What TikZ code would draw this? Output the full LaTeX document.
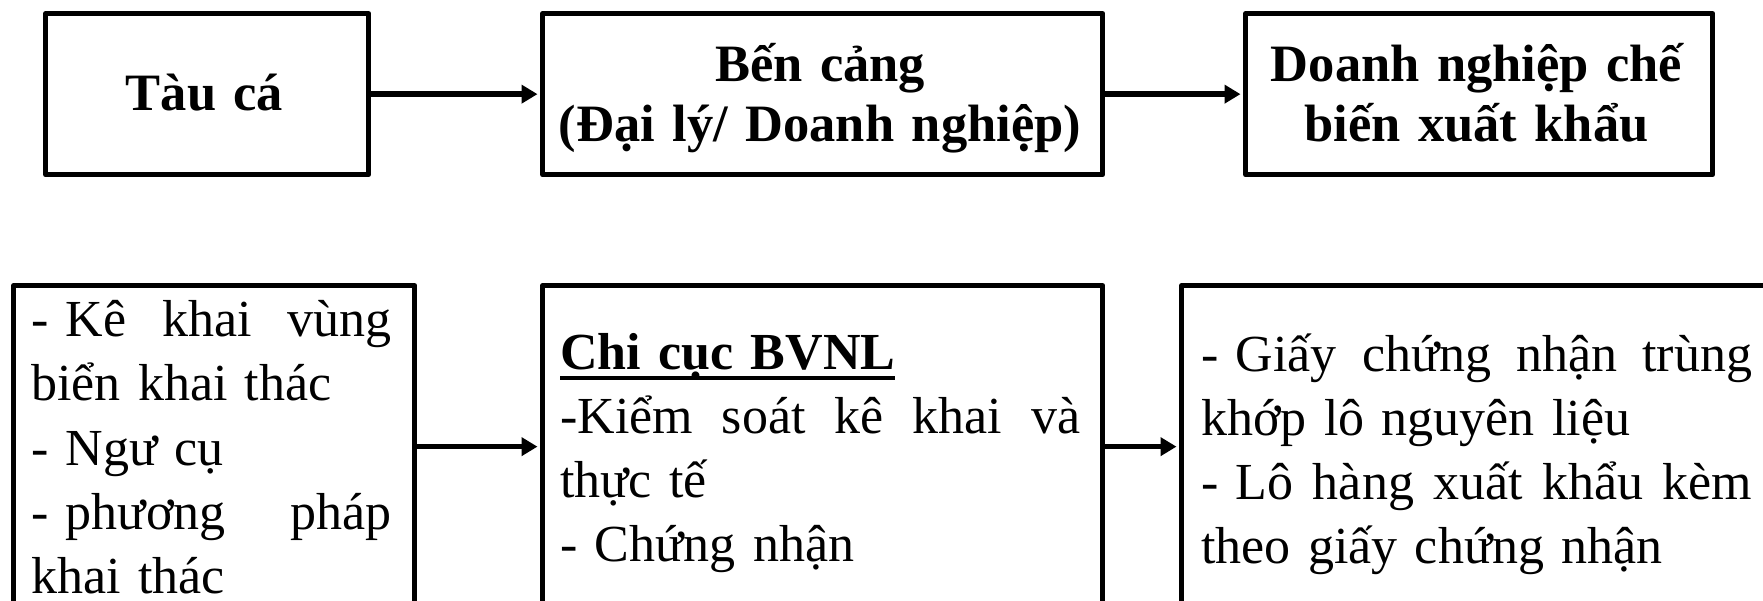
\documentclass[tikz,border=0pt]{standalone}
\usepackage{fontspec}
\setmainfont{Liberation Serif}
\usetikzlibrary{arrows.meta}
\newcommand\ulbold[1]{\setbox0\hbox{#1}\rlap{\rule[-11pt]{\wd0}{4pt}}\box0}
\begin{document}
\begin{tikzpicture}[x=1pt,y=-1pt,
  box/.style={draw, line width=5.3pt, line join=round, inner sep=0pt, anchor=north west},
  ttext/.style={font=\fontsize{52.5}{60}\selectfont\bfseries, align=center, anchor=base, inner sep=0pt},
  btext/.style={font=\fontsize{52}{64}\selectfont, align=left, anchor=base west, inner sep=0pt},
  conn/.style={line width=5.5pt, shorten >=2.5pt, -{Triangle[length=16pt,width=18pt]}}]
\useasboundingbox (0,0) rectangle (1763,601);
\fill[white] (0,0) rectangle (1763,601);
% top row
\node[box, minimum width=323pt, minimum height=161pt] (b1) at (43,11) {};
\node[box, minimum width=560pt, minimum height=161pt] (b2) at (540,11) {};
\node[box, minimum width=467pt, minimum height=161pt] (b3) at (1243,11) {};
\node[ttext, text width=320pt] (t1) at (204.5,111) {Tàu cá};
\node[ttext, text width=556pt] (t2) at (820,82) {Bến cảng\\(Đại lý/ Doanh nghiệp)};
\node[ttext, text width=464pt] (t3) at (1476.5,82) {Doanh nghiệp chế\\biến xuất khẩu};
\draw[conn] (b1.east) -- (b2.west);
\draw[conn] (b2.east) -- (b3.west);
% bottom row
\node[box, minimum width=401pt, minimum height=322pt] (c1) at (11,283) {};
\node[box, minimum width=560pt, minimum height=322pt] (c2) at (540,283) {};
\node[box, minimum width=600pt, minimum height=322pt] (c3) at (1179,283) {};
\node[btext, text width=360pt] (u1) at (31,337)
  {-~Kê\hfill khai\hfill vùng\\biển khai thác\\- Ngư cụ\\-~phương\hfill pháp\\khai thác};
\node[btext, text width=520pt] (u2) at (560,369)
  {\ulbold{\bfseries Chi cục BVNL}\\-Kiểm\hfill soát\hfill kê\hfill khai\hfill và\\thực tế\\- Chứng nhận};
\node[btext, text width=551pt] (u3) at (1201,371)
  {-~Giấy\hfill chứng\hfill nhận\hfill trùng\\khớp lô nguyên liệu\\-~Lô\hfill hàng\hfill xuất\hfill khẩu\hfill kèm\\theo giấy chứng nhận};
\draw[conn] (c1.east) -- (c2.west);
\draw[conn] (c2.east) -- (c3.west);
\end{tikzpicture}
\end{document}
